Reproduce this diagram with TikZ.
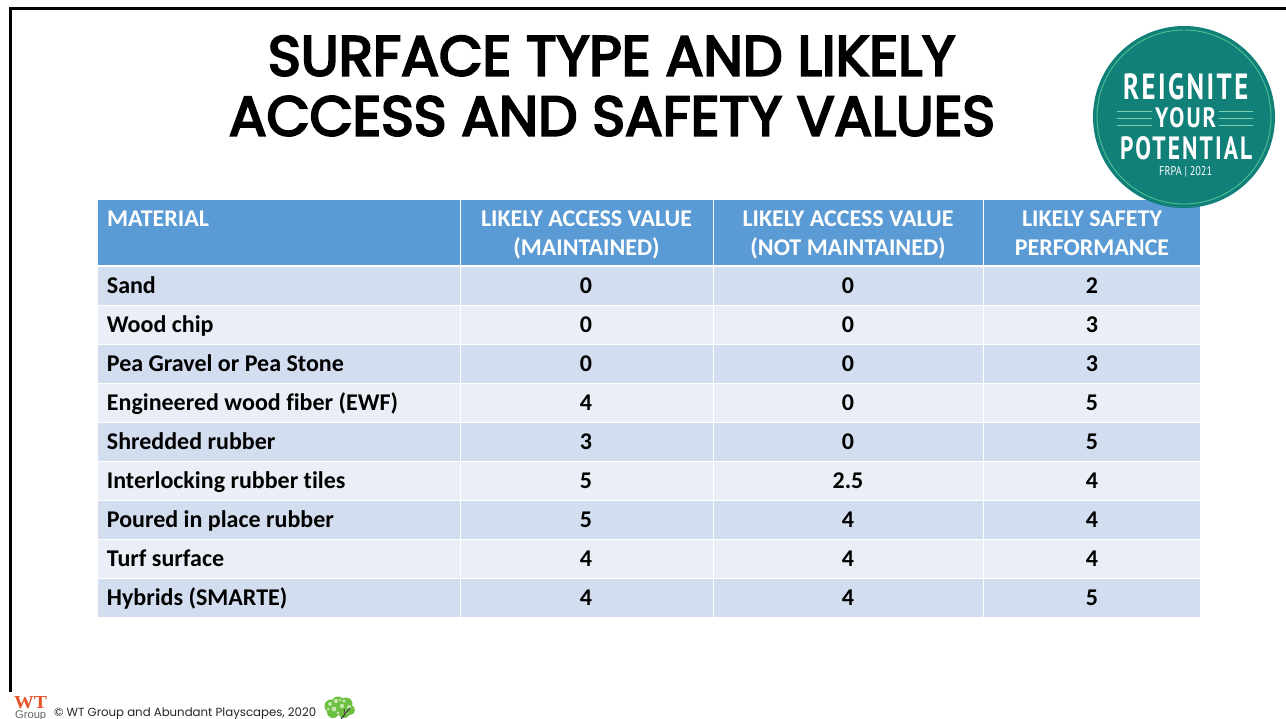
\documentclass[tikz,border=0pt]{standalone}
\usepackage{graphicx}
\usepackage{fontspec}
\setmainfont{Carlito}[Ligatures=NoCommon]
\newfontfamily\titlefont{Poppins}[FakeBold=4]
\newfontfamily\footfont{Poppins}
\newfontfamily\logofont{PT Sans}[LetterSpace=9]
\newfontfamily\logosmall{PT Sans}
\newfontfamily\wtfont{Liberation Serif}
\newfontfamily\grpfont{Liberation Sans}
\definecolor{headblue}{HTML}{5B9BD5}
\definecolor{rowA}{HTML}{D2DEEF}
\definecolor{rowB}{HTML}{EAEFF7}
\definecolor{teal}{HTML}{108079}
\definecolor{ringgreen}{HTML}{4FBF93}
\definecolor{wtred}{HTML}{E8532B}
\definecolor{leaf}{HTML}{6CBF3F}
\tikzset{
  cellbox/.style={rectangle,inner sep=0pt,outer sep=0pt,draw=none},
  celltext/.style={inner sep=0pt,font=\fontsize{24}{28}\selectfont\bfseries,text=black},
  headtext/.style={inner sep=0pt,font=\fontsize{24}{28}\selectfont\bfseries,text=white},
  titletext/.style={inner sep=0pt,font=\titlefont,text=black},
  logotext/.style={inner sep=0pt,font=\logofont\bfseries,text=white},
  logoline/.style={ringgreen!75!white,line width=1pt},
  frameline/.style={black,line width=2.6pt}
}
\begin{document}
\begin{tikzpicture}[x=1pt,y=-1pt]
\useasboundingbox (0,0) rectangle (1286,719);
\fill[white] (0,0) rectangle (1286,719);
\clip (0,0) rectangle (1286,719);
% frame
\coordinate (fa) at (10.5,692);
\coordinate (fb) at (10.5,8.5);
\coordinate (fc) at (1286,8.5);
\draw[frameline] (fa) -- (fb) -- (fc);
% title
\node[titletext,anchor=base] (title1) at (611.5,75.5) {\resizebox{687pt}{!}{SURFACE TYPE AND LIKELY}};
\node[titletext,anchor=base] (title2) at (612,135.5) {\resizebox{766pt}{!}{ACCESS AND SAFETY VALUES}};
% header
\node[cellbox,fill=headblue,minimum width=362pt,minimum height=65pt] (h1) at (279,232.5) {};
\node[cellbox,fill=headblue,minimum width=252pt,minimum height=65pt] (h2) at (587,232.5) {};
\node[cellbox,fill=headblue,minimum width=269pt,minimum height=65pt] (h3) at (848.5,232.5) {};
\node[cellbox,fill=headblue,minimum width=216pt,minimum height=65pt] (h4) at (1092,232.5) {};
\node[headtext,anchor=base west] (ht1) at (107,226.7) {MATERIAL};
\node[headtext,anchor=base] (ht2a) at (586.5,226.7) {LIKELY ACCESS VALUE};
\node[headtext,anchor=base] (ht2b) at (586.5,255.7) {(MAINTAINED)};
\node[headtext,anchor=base] (ht3a) at (848,226.7) {LIKELY ACCESS VALUE};
\node[headtext,anchor=base] (ht3b) at (848,255.7) {(NOT MAINTAINED)};
\node[headtext,anchor=base] (ht4a) at (1092,226.7) {LIKELY SAFETY};
\node[headtext,anchor=base] (ht4b) at (1092,255.7) {PERFORMANCE};
% rows
\foreach \r/\yc/\colr/\m/\a/\b/\c in {
  1/286/rowA/Sand/0/0/2,
  2/325/rowB/Wood chip/0/0/3,
  3/364/rowA/Pea Gravel or Pea Stone/0/0/3,
  4/403/rowB/Engineered wood fiber (EWF)/4/0/5,
  5/442/rowA/Shredded rubber/3/0/5,
  6/481/rowB/Interlocking rubber tiles/5/2.5/4,
  7/520/rowA/Poured in place rubber/5/4/4,
  8/559/rowB/Turf surface/4/4/4,
  9/597.5/rowA/Hybrids (SMARTE)/4/4/5}{
  \node[cellbox,fill=\colr,minimum width=362pt,minimum height=38pt] (r\r m) at (279,\yc) {};
  \node[cellbox,fill=\colr,minimum width=252pt,minimum height=38pt] (r\r a) at (587,\yc) {};
  \node[cellbox,fill=\colr,minimum width=269pt,minimum height=38pt] (r\r b) at (848.5,\yc) {};
  \node[cellbox,fill=\colr,minimum width=216pt,minimum height=38pt] (r\r c) at (1092,\yc) {};
  \node[celltext,anchor=base west] (t\r m) at (106.7,\yc+7.7) {\m};
  \node[celltext,anchor=base] (t\r a) at (586,\yc+7.7) {\a};
  \node[celltext,anchor=base] (t\r b) at (848,\yc+7.7) {\b};
  \node[celltext,anchor=base] (t\r c) at (1092,\yc+7.7) {\c};
}
% logo
\node[circle,fill=teal,minimum size=182pt,inner sep=0pt] (logo) at (1184,117) {};
\node[circle,draw=ringgreen,line width=0.9pt,minimum size=174pt,inner sep=0pt] (ring) at (1184,117) {};
\node[logotext,anchor=base west] (lg1) at (1123,100) {\resizebox{125pt}{26pt}{REIGNITE}};
\node[logotext,anchor=base west] (lg2) at (1155,128) {\resizebox{61pt}{20pt}{YOUR}};
\node[logotext,anchor=base west] (lg3) at (1120,160) {\resizebox{132pt}{23pt}{POTENTIAL}};
\node[anchor=base west,inner sep=0pt,text=white,font=\logosmall] (lg4) at (1159,176) {\resizebox{53pt}{9pt}{FRPA | 2021}};
\foreach \yy in {112,119,126}{
  \coordinate (ll\yy) at (1117,\yy); \coordinate (lr\yy) at (1152,\yy);
  \coordinate (rl\yy) at (1219,\yy); \coordinate (rr\yy) at (1253,\yy);
  \draw[logoline] (ll\yy) -- (lr\yy);
  \draw[logoline] (rl\yy) -- (rr\yy);
}
% footer
\node[anchor=base west,inner sep=0pt,text=wtred,font=\wtfont\bfseries] (wt) at (14,708) {\resizebox{33pt}{12pt}{WT}};
\node[anchor=base west,inner sep=0pt,text=black!60,font=\grpfont] (grp) at (15,718.5) {\resizebox{31pt}{!}{Group}};
\node[anchor=base west,inner sep=0pt,text=black!85,font=\footfont] (foot) at (54,716) {\resizebox{262pt}{!}{© WT Group and Abundant Playscapes, 2020}};
% tree
\foreach \p/\q/\s in {331/706/6.5,338/703/6.5,346/704/6.5,350/710/5,344/712/6,333/712/6,339/708/7}{
  \fill[leaf] (\p,\q) circle (\s);
}
\foreach \p/\q/\s in {330/704/2,336/701/2.2,344/701/1.8,349/707/2,334/709/2.4,342/706/2.2,328/709/1.5,346/713/1.8,338/713/1.6,340/700/1.4}{
  \fill[leaf!40!white] (\p,\q) circle (\s);
}
\draw[black!80,line width=1pt] (341,719) -- (350,708);
\draw[black!80,line width=0.7pt] (345,714) -- (344,709);
\end{tikzpicture}
\end{document}
